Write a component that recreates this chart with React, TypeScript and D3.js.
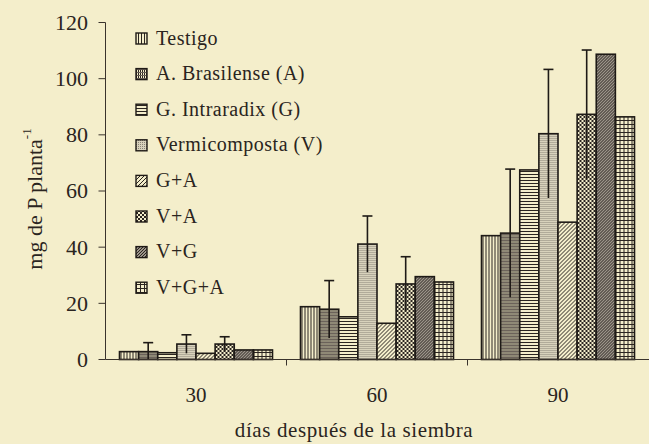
import React from 'react'
import * as d3 from 'd3'

const days = ['30', '60', '90']
const treatments = ['Testigo', 'A. Brasilense (A)', 'G. Intraradix (G)', 'Vermicomposta (V)', 'G+A', 'V+A', 'V+G', 'V+G+A']
const valores30 = [2.8, 2.8, 2.4, 5.5, 2.2, 5.5, 3.4, 3.4]
const valores60 = [18.8, 17.9, 15.2, 41.1, 12.9, 26.9, 29.5, 27.6]
const valores90 = [44.1, 45, 67.5, 80.4, 48.9, 87.3, 108.7, 86.4]
const errores30 = [0, 3.2, 0, 3.3, 0, 2.6, 0, 0]
const errores60 = [0, 10.2, 0, 10, 0, 9.7, 0, 0]
const errores90 = [0, 22.8, 0, 22.9, 0, 22.9, 0, 0]
const yTicks = [0, 20, 40, 60, 80, 100, 120]

const W = 649
const H = 444
const BG = '#f4eecb'
const INK = '#2a2420'
const LINE = '#1e1a16'
const FONT = 'Liberation Serif'

const series = [valores30, valores60, valores90]
const errs = [errores30, errores60, errores90]

const x0 = d3.scaleBand().domain(days).range([105.5, 648.5])
const x1 = d3.scaleBand().domain(treatments).range([14, x0.bandwidth() - 14])
const y = d3.scaleLinear().domain([0, 120]).range([359.5, 22.5])

function Patterns() {
  const P = (id: string, w: number, h: number, children: React.ReactNode) => (
    <pattern id={id} patternUnits="userSpaceOnUse" width={w} height={h}>
      <rect width={w} height={h} fill={BG} />
      {children}
    </pattern>
  )
  return (
    <defs>
      {P('p0', 3, 3, <rect width={1} height={3} fill={INK} />)}
      {P('p1', 2, 3, <>
        <rect width={1} height={3} fill={INK} />
        <rect width={2} height={1} fill="#6b625a" />
      </>)}
      {P('p2', 3, 3, <rect width={3} height={1} fill={INK} />)}
      {P('p3', 2, 2, <>
        <rect width={2} height={2} fill="#d8d2bc" />
        <rect width={1} height={1} fill="#8a8378" />
      </>)}
      {P('p4', 4, 4, <path d="M0,4 L4,0 M-1,1 L1,-1 M3,5 L5,3" stroke={INK} strokeWidth={1} />)}
      {P('p5', 4, 4, <>
        <rect width={2} height={2} fill={INK} />
        <rect x={2} y={2} width={2} height={2} fill={INK} />
      </>)}
      {P('p6', 3, 3, <>
        <rect width={3} height={3} fill="#9c958a" />
        <path d="M0,3 L3,0" stroke={INK} strokeWidth={1} />
      </>)}
      {P('p7', 4, 4, <>
        <rect width={1} height={4} fill={INK} />
        <rect width={4} height={1} fill={INK} />
      </>)}
    </defs>
  )
}

export default function App() {
  const txt = { fontFamily: FONT, fill: INK }
  return (
    <div style={{ position: 'absolute', left: 0, top: 0, width: W, height: H, background: BG }}>
      <svg width={W} height={H} style={{ display: 'block' }}>
        <Patterns />

        {days.map((d, di) => (
          <g key={d} transform={`translate(${x0(d)},0)`}>
            {treatments.map((t, ti) => {
              const v = series[di][ti]
              const e = errs[di][ti]
              const cx = x1(t)! + x1.bandwidth() / 2
              return (
                <g key={t}>
                  <rect x={x1(t)} y={y(v)} width={x1.bandwidth()} height={y(0) - y(v)}
                    fill={`url(#p${ti})`} stroke={LINE} strokeWidth={1.6} />
                  {e > 0 && <>
                    <line x1={cx} x2={cx} y1={y(Math.max(0, v - e))} y2={y(v + e)} stroke={LINE} strokeWidth={1.6} />
                    <line x1={cx - 5} x2={cx + 5} y1={y(v + e)} y2={y(v + e)} stroke={LINE} strokeWidth={1.6} />
                  </>}
                </g>
              )
            })}
          </g>
        ))}

        {/* y axis */}
        <line x1={105.5} x2={105.5} y1={y(120)} y2={y(0)} stroke="#3a332c" />
        {yTicks.map(t => (
          <g key={t}>
            <line x1={98.5} x2={105.5} y1={y(t)} y2={y(t)} stroke="#3a332c" />
            <text x={88} y={y(t)} dy="0.34em" textAnchor="end" style={{ ...txt, fontSize: '22px' }}>{t}</text>
          </g>
        ))}

        {/* x axis */}
        <line x1={105.5} x2={649} y1={y(0)} y2={y(0)} stroke="#3a332c" />
        {days.slice(1).map(d => (
          <line key={d} x1={x0(d)} x2={x0(d)} y1={y(0)} y2={y(0) + 6} stroke="#3a332c" />
        ))}
        {days.map(d => (
          <text key={d} x={x0(d)! + x0.bandwidth() / 2} y={y(0) + 42} textAnchor="middle"
            style={{ ...txt, fontSize: '21px' }}>{d}</text>
        ))}

        <text x={354} y={437} textAnchor="middle" style={{ ...txt, fontSize: '21px', letterSpacing: '0.6px' }}>
          días después de la siembra
        </text>

        <text transform="translate(42,199) rotate(-90)" textAnchor="middle" style={{ ...txt, fontSize: '22px' }}>
          <tspan>mg de P planta</tspan>
          <tspan dy={-11} style={{ fontSize: '13px' }}>-1</tspan>
        </text>

        {/* legend */}
        {treatments.map((t, i) => {
          const ly = 38 + i * 35.6
          return (
            <g key={t}>
              <rect x={136} y={ly - 5} width={11} height={11} fill={`url(#p${i})`} stroke={LINE} strokeWidth={1.4} />
              <text x={156} y={ly + 6.5} style={{ ...txt, fontSize: '20px', letterSpacing: '0.5px' }}>{t}</text>
            </g>
          )
        })}
      </svg>
    </div>
  )
}
